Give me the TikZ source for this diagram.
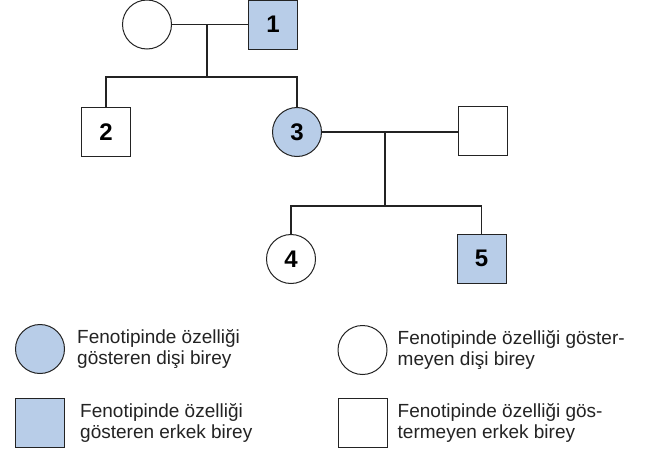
\documentclass[tikz,border=0pt]{standalone}
\usepackage{fontspec}
\setmainfont{Liberation Sans}
\usepackage{xcolor}
\usetikzlibrary{positioning}
\definecolor{xanh}{RGB}{184,205,232}
\definecolor{net}{RGB}{35,35,35}

\tikzset{
    nu/.style={circle, draw=net, line width=1pt, minimum size=49pt, inner sep=0pt,
        font=\bfseries\fontsize{24}{24}\selectfont},
    nam/.style={rectangle, draw=net, line width=1pt, minimum size=49pt, inner sep=0pt,
        font=\bfseries\fontsize{24}{24}\selectfont},
    benh/.style={fill=xanh},
    noi/.style={draw=net, line width=1.8pt},
    chu/.style={align=left, inner sep=0pt, text=net, font=\fontsize{19}{21}\selectfont}
}

\begin{document}
\begin{tikzpicture}[x=1pt, y=-1pt]
    \useasboundingbox (0,0) rectangle (645,455);

    % Thế hệ I
    \node[nu] (c1) at (147,24.5) {};
    \node[nam, benh] (b1) at (273,24.5) {1};

    % Thế hệ II
    \node[nam] (c2) at (106,132) {2};
    \node[nu, benh] (c3) at (297,132) {3};
    \node[nam] (b3) at (483,131) {};

    % Thế hệ III
    \node[nu] (c4) at (291,259) {4};
    \node[nam, benh] (c5) at (481.5,258.5) {5};

    % Các đường nối
    \coordinate (g1) at (207,24.5);
    \coordinate (s1) at (207,77);
    \coordinate (g2) at (385,132);
    \coordinate (s2) at (385,206);
    \draw[noi] (c1) -- (b1);
    \draw[noi] (g1) -- (s1);
    \draw[noi] (c2.north) |- (s1) -| (c3.north);
    \draw[noi] (c3.east) -- (c3.east -| b3.west);
    \draw[noi] (g2) -- (s2);
    \draw[noi] (c4.north) |- (s2) -| (c5.north);

    % Chú thích
    \node[nu, benh] (l1) at (40,349) {};
    \node[chu, right=12pt of l1] (t1) {Fenotipinde özelliği\\gösteren dişi birey};
    \node[nam, benh] (l2) at (40,422.5) {};
    \node[chu, right=15pt of l2] (t2) {Fenotipinde özelliği\\gösteren erkek birey};
    \node[nu] (l3) at (362.5,350) {};
    \node[chu, right=10pt of l3] (t3) {Fenotipinde özelliği göster-\\meyen dişi birey};
    \node[nam] (l4) at (362.5,423) {};
    \node[chu, right=10pt of l4] (t4) {Fenotipinde özelliği gös-\\termeyen erkek birey};
\end{tikzpicture}
\end{document}
